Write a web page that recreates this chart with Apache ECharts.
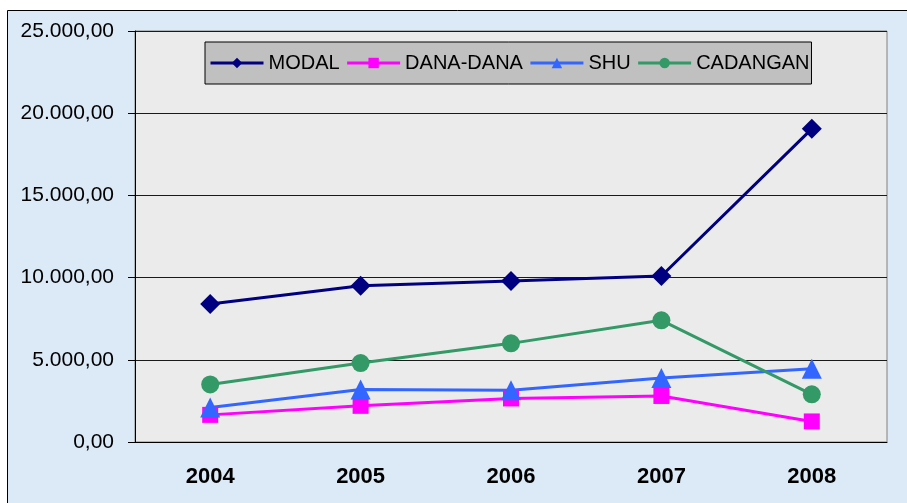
<!DOCTYPE html>
<html>
<head>
<meta charset="utf-8">
<script src="https://cdn.jsdelivr.net/npm/echarts@6/dist/echarts.min.js"></script>
<style>
	html, body { margin: 0; padding: 0; background: #fff; }
	#chart { width: 907px; height: 503px; }
</style>
</head>
<body>
<div id="chart"></div>
<script>
	// data
	var years = ['2004', '2005', '2006', '2007', '2008'];
	var modal = [8400, 9500, 9800, 10100, 19050];
	var dana = [1650, 2200, 2650, 2800, 1250];
	var shu = [2100, 3200, 3150, 3900, 4450];
	var cadangan = [3500, 4800, 6000, 7400, 2900];

	// 25000 -> "25.000,00"
	function fmt(v) {
		var s = String(Math.round(v));
		s = s.replace(/\B(?=(\d{3})+(?!\d))/g, '.');
		return s + ',00';
	}

	var myChart = echarts.init(document.getElementById('chart'));

	function line(name, data, color, symbol, size) {
		return {
			name: name,
			type: 'line',
			data: data,
			symbol: symbol,
			symbolSize: size,
			lineStyle: { color: color, width: 3 },
			itemStyle: { color: color },
			z: 3
		};
	}

	myChart.setOption({
		backgroundColor: '#ffffff',
		animation: false,
		textStyle: { fontFamily: 'Liberation Sans' },
		graphic: [{
			type: 'rect',
			z: -10,
			shape: { x: 7.5, y: 10.5, width: 920, height: 520 },
			style: { fill: '#dce9f6', stroke: '#000', lineWidth: 1 }
		}],
		grid: {
			left: 135,
			right: 20,
			top: 31,
			bottom: 61,
			show: true,
			backgroundColor: '#ebebeb',
			borderColor: '#808080',
			borderWidth: 1
		},
		legend: {
			left: 205,
			top: 42,
			backgroundColor: '#c0c0c0',
			borderColor: '#000',
			borderWidth: 1,
			padding: [11, 2, 11, 4],
			itemWidth: 53,
			itemHeight: 13,
			itemGap: 6,
			lineStyle: { width: 3 },
			textStyle: { fontSize: 20, color: '#000', fontFamily: 'Liberation Sans' },
			data: ['MODAL', 'DANA-DANA', 'SHU', 'CADANGAN']
		},
		xAxis: {
			type: 'category',
			data: years,
			boundaryGap: true,
			axisLine: { lineStyle: { color: '#000', width: 1 } },
			axisTick: { length: 8, lineStyle: { color: '#000' } },
			axisLabel: { fontSize: 22, fontWeight: 'bold', color: '#000', margin: 24 }
		},
		yAxis: {
			type: 'value',
			min: 0,
			max: 25000,
			interval: 5000,
			axisLine: { show: true, lineStyle: { color: '#000', width: 1 } },
			axisTick: { show: true, length: 7, lineStyle: { color: '#000' } },
			axisLabel: { fontSize: 21, color: '#000', margin: 21, formatter: fmt },
			splitLine: { lineStyle: { color: '#1a1a1a', width: 1 } }
		},
		series: [
			line('MODAL', modal, '#000080', 'diamond', 20),
			line('DANA-DANA', dana, '#ff00ff', 'rect', 16),
			line('SHU', shu, '#3366ff', 'triangle', 20),
			line('CADANGAN', cadangan, '#339966', 'circle', 18)
		]
	});
</script>
</body>
</html>
